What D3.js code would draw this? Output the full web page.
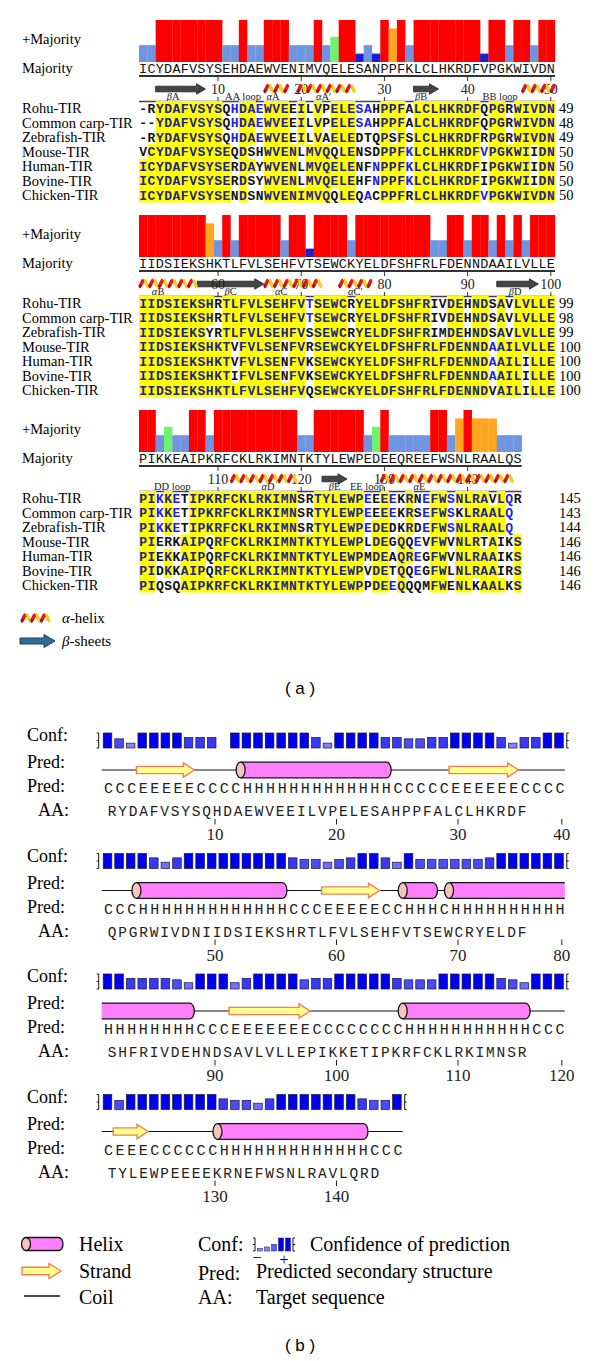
<!DOCTYPE html>
<html><head><meta charset="utf-8">
<script src="https://cdn.jsdelivr.net/npm/d3@7/dist/d3.min.js"></script>
<style>html,body{margin:0;padding:0;background:#fff;}svg{display:block;}</style>
</head><body>
<svg id="chart" width="600" height="1361" xmlns="http://www.w3.org/2000/svg"></svg>
<script>
// ================= DATA =================
const seqNames = ["Rohu-TIR","Common carp-TIR","Zebrafish-TIR","Mouse-TIR","Human-TIR","Bovine-TIR","Chicken-TIR"];
const blockStarts = [1, 51, 101];
const majority1 = "ICYDAFVSYSEHDAEWVENIMVQELESANPPFKLCLHKRDFVPGKWIVDN";
const majority2 = "IIDSIEKSHKTLFVLSEHFVTSEWCKYELDFSHFRLFDENNDAAILVLLE";
const majority3 = "PIKKEAIPKRFCKLRKIMNTKTYLEWPEDEEQREEFWSNLRAALQS";
const seqBlock1 = [
 "-RYDAFVSYSQHDAEWVEEILVPELESAHPPFALCLHKRDFQPGRWIVDN",
 "--YDAFVSYSQHDAEWVEEILVPELESAHPPFALCLHKRDFQPGRWIVDN",
 "-RYDAFVSYSQHDAEWVEEILVAELEDTQPSFSLCLHKRDFRPGRWIVDN",
 "VCYDAFVSYSEQDSHWVENLMVQQLENSDPPFKLCLHKRDFVPGKWIIDN",
 "ICYDAFVSYSERDAYWVENLMVQELENFNPPFKLCLHKRDFIPGKWIIDN",
 "ICYDAFVSYSERDSYWVENLMVQELEHFNPPFKLCLHKRDFIPGKWIIDN",
 "ICYDAFVSYSENDSNWVENIMVQQLEQACPPFRLCLHKRDFVPGKWIVDN"];
const seqBlock2 = [
 "IIDSIEKSHRTLFVLSEHFVTSEWCRYELDFSHFRIVDEHNDSAVLVLLE",
 "IIDSIEKSHRTLFVLSEHFVTSEWCRYELDFSHFRIVDEHNDSAVLVLLE",
 "IIDSIEKSYRTLFVLSEHFVSSEWCRYELDFSHFRIMDEHNDSAVLVLLE",
 "IIDSIEKSHKTVFVLSENFVRSEWCKYELDFSHFRLFDENNDAAILVLLE",
 "IIDSIEKSHKTVFVLSENFVKSEWCKYELDFSHFRLFDENNDAAILILLE",
 "IIDSIEKSHKTIFVLSENFVKSEWCKYELDFSHFRLFDENNDAAILILLE",
 "IIDSIEKSHKTLFVLSEHFVQSEWCKYELDFSHFRLFDENNDVAILILLE"];
const seqBlock3 = [
 "PIKKETIPKRFCKLRKIMNSRTYLEWPEEEEKRNEFWSNLRAVLQR",
 "PIKKETIPKRFCKLRKIMNSRTYLEWPEEEEKRSEFWSKLRAALQ",
 "PIKKETIPKRFCKLRKIMNSRTYLEWPEDEDKRDEFWSNLRAALQ",
 "PIERKAIPQRFCKLRKIMNTKTYLEWPLDEGQQEVFWVNLRTAIKS",
 "PIEKKAIPQRFCKLRKIMNTKTYLEWPMDEAQREGFWVNLRAAIKS",
 "PIDKKAIPQRFCKLRKIMNTKTYLEWPVDETQQEGFWLNLRAAIRS",
 "PIQSQAIPKRFCKLRKIMNTKTYLEWPPDEEQQQMFWENLKAALKS"];
const endNum1 = [49, 48, 49, 50, 50, 50, 50];
const endNum2 = [99, 98, 99, 100, 100, 100, 100];
const endNum3 = [145, 143, 144, 146, 146, 146, 146];
// conservation (+Majority) per column: 100 identical ... 20 low
const cons1 = [40,40,100,100,100,100,100,100,100,100,40,40,100,40,40,100,100,100,40,40,40,100,40,60,100,100,20,40,20,100,80,100,40,100,100,100,100,100,100,100,100,20,100,100,40,100,100,40,100,100];
const cons2 = [100,100,100,100,100,100,100,100,80,40,100,40,100,100,100,100,100,40,100,100,20,100,100,100,100,40,100,100,100,100,100,100,100,100,100,40,40,100,100,40,100,100,40,100,40,100,40,100,100,100];
const cons3 = [100,100,40,60,40,40,100,100,40,100,100,100,100,100,100,100,100,100,100,40,40,100,100,100,100,100,100,40,60,100,40,40,40,40,40,100,100,40,80,100,80,80,80,40,40,40];
// secondary structure annotations of panel (a), in residue positions
const ssHelixA  = [[16,18],[20,26],[47,50],[51,57],[66,72],[75,78],[112,119],[130,145]];
const ssStrandA = [[3,8],[34,36],[58,65],[94,98],[123,125]];
const ssLabelsA = [["βA",4.6],["AA loop",13.0],["αA",16.6],["αA′",22.7],["βB",34.4],["BB loop",43.9],
  ["αB",52.8],["βC",61.5],["αC",67.6],["αC′",76.5],["βD",95.7],
  ["DD loop",104.5],["αD",116],["βE",124],["EE loop",127.9],["αE",134.2]];
const rulerTicksA = [10,20,30,40,50,60,70,80,90,100,110,120,130,140];

// Panel (b): PSIPRED
const bStarts = [1, 41, 81, 121];
const predB1 = "CCCEEEEECCCCHHHHHHHHHHHHHCCCCCEEEEEECCCC";
const predB2 = "CCCHHHHHHHHHHHHHCCCEEEEECCHHHCHHHHHHHHHH";
const predB3 = "HHHHHHHHCCCEEEEEEECCCCCCCCHHHHHHHHHHHCCC";
const predB4 = "CEEECCCCCCHHHHHHHHHHHHHCCC";
const aaB1 = "RYDAFVSYSQHDAEWVEEILVPELESAHPPFALCLHKRDF";
const aaB2 = "QPGRWIVDNIIDSIEKSHRTLFVLSEHFVTSEWCRYELDF";
const aaB3 = "SHFRIVDEHNDSAVLVLLEPIKKETIPKRFCKLRKIMNSR";
const aaB4 = "TYLEWPEEEEKRNEFWSNLRAVLQRD";
const confB1 = [9,5,2,9,9,9,9,6,6,6,0,9,9,9,9,9,9,9,6,2,9,9,9,9,6,6,5,5,6,6,9,9,9,9,6,2,6,6,9,9];
const confB2 = [9,9,9,9,6,3,6,9,9,9,9,9,9,9,9,9,6,5,5,3,5,6,9,9,6,3,9,5,5,5,5,5,5,6,9,9,9,9,9,9];
const confB3 = [9,9,6,6,6,6,5,3,9,9,9,3,6,9,9,9,9,5,6,6,9,9,9,9,9,6,5,5,5,9,9,9,9,9,6,5,3,9,9,9];
const confB4 = [9,5,9,9,9,9,9,9,9,9,6,5,5,3,6,9,9,9,9,9,9,9,6,5,5,9];
const legendConf = [1,2,4,9,9];

// ================= DRAW =================
const svg = d3.select("#chart");
const serif = "'Liberation Serif','Times New Roman',serif";
const mono = "'Liberation Mono','DejaVu Sans Mono','Courier New',monospace";
const sans = "'Liberation Sans',Arial,sans-serif";

svg.append("rect").attr("width",600).attr("height",1361).attr("fill","#fff");

// ---------- Panel (a) ----------
const blockDy = 195;
const colX = d3.scaleLinear().domain([0, 50]).range([139, 555]);
const colW = colX(1) - colX(0);
const consY = d3.scaleLinear().domain([0, 100]).range([62, 20]);
const rowY = d3.scaleLinear().domain([0, 6]).range([108.3, 195]);
const consColor = d3.scaleThreshold().domain([30, 50, 70, 90])
  .range(["#1c1cd0", "#6f94e0", "#6cf26c", "#ffa51e", "#ff0000"]);

const blocksA = [
  {start: blockStarts[0], maj: majority1, seqs: seqBlock1, ends: endNum1, cons: cons1},
  {start: blockStarts[1], maj: majority2, seqs: seqBlock2, ends: endNum2, cons: cons2},
  {start: blockStarts[2], maj: majority3, seqs: seqBlock3, ends: endNum3, cons: cons3}
];

function helixA(g, x0, x1, yc) {
  const amp = 3.4, P = 9.6;
  const n = Math.max(2, Math.round((x1 - x0) / (P / 2)));
  const half = (x1 - x0) / n;
  const segs = d3.range(n).map(k => ({k, pts: d3.range(0, 1.0001, 0.125).map(t =>
      [x0 + (k + t) * half, yc + amp * Math.cos(Math.PI * (k + t))])}));
  const line = d3.line();
  g.selectAll(null).data(segs.filter(s => s.k % 2 === 1)).join("path")
    .attr("d", s => line(s.pts)).attr("fill", "none").attr("stroke", "#f2cf22").attr("stroke-width", 3.6);
  g.selectAll(null).data(segs.filter(s => s.k % 2 === 0)).join("path")
    .attr("d", s => line(s.pts)).attr("fill", "none").attr("stroke", "#de1a1a").attr("stroke-width", 3.6);
  g.selectAll(null).data(segs.filter(s => s.k % 2 === 0)).join("path")
    .attr("d", s => line(s.pts.slice(0, 4))).attr("fill", "none").attr("stroke", "#9c0d0d").attr("stroke-width", 2.2);
}
function arrowPath(x0, x1, yc, bh, hh, hl) {
  const xb = Math.max(x0 + 1, x1 - hl);
  return `M${x0},${yc - bh}L${xb},${yc - bh}L${xb},${yc - hh}L${x1},${yc}L${xb},${yc + hh}L${xb},${yc + bh}L${x0},${yc + bh}Z`;
}

blocksA.forEach((B, bi) => {
  const g = svg.append("g").attr("transform", `translate(0,${bi * blockDy})`);
  const n = B.maj.length;
  const inBlock = p => p >= B.start && p < B.start + n;
  const px = p => colX(p - B.start);
  const pc = p => colX(p - B.start) + colW / 2;

  g.append("text").attr("x", 22).attr("y", 44).attr("font-family", serif).attr("font-size", 14.5).text("+Majority");
  g.append("text").attr("x", 22).attr("y", 73).attr("font-family", serif).attr("font-size", 14.5).text("Majority");

  g.selectAll(null).data(B.cons).join("rect")
    .attr("x", (v, i) => colX(i)).attr("width", colW + 0.2)
    .attr("y", v => consY(v)).attr("height", v => consY(0) - consY(v))
    .attr("fill", v => consColor(v));

  g.selectAll(null).data(B.maj.split("")).join("text")
    .attr("x", (c, i) => colX(i) + colW / 2).attr("y", 72.5)
    .attr("text-anchor", "middle").attr("font-family", mono).attr("font-size", 13.5).attr("fill", "#111").text(c => c);

  g.append("line").attr("x1", colX(0)).attr("x2", colX(n)).attr("y1", 76).attr("y2", 76).attr("stroke", "#333").attr("stroke-width", 2);
  g.append("line").attr("x1", colX(0)).attr("x2", colX(n)).attr("y1", 101.5).attr("y2", 101.5).attr("stroke", "#444").attr("stroke-width", 1.5);
  const ticks = rulerTicksA.filter(inBlock);
  g.selectAll(null).data(ticks).join("line").attr("x1", pc).attr("x2", pc).attr("y1", 76).attr("y2", 81).attr("stroke", "#333").attr("stroke-width", 1);
  g.selectAll(null).data(ticks).join("line").attr("x1", pc).attr("x2", pc).attr("y1", 97).attr("y2", 101.5).attr("stroke", "#333").attr("stroke-width", 1);

  const strands = ssStrandA.filter(s => inBlock(s[0]));
  g.selectAll(null).data(strands).join("path")
    .attr("d", s => arrowPath(px(s[0]), px(s[1]) + colW, 89, 2.8, 5.2, 9))
    .attr("fill", "#454545").attr("stroke", "#1e1e1e").attr("stroke-width", 0.8);
  g.selectAll(null).data(ticks).join("text").attr("x", pc).attr("y", 94)
    .attr("text-anchor", "middle").attr("font-family", serif).attr("font-size", 14).attr("fill", "#222").text(d => d);
  ssHelixA.filter(s => inBlock(s[0])).forEach(s => helixA(g, px(s[0]), px(s[1]) + colW, 88.5));
  ssLabelsA.filter(l => inBlock(Math.floor(l[1]))).forEach(l => {
    const t = g.append("text").attr("x", pc(l[1])).attr("y", 100).attr("text-anchor", "middle")
      .attr("font-family", serif).attr("font-size", 10.5).attr("fill", "#222");
    const s = l[0];
    if (s[0] === "α" || s[0] === "β") {
      t.append("tspan").attr("font-style", "italic").text(s[0]);
      t.append("tspan").text(s.slice(1));
    } else t.text(s);
  });

  // sequences: highlight when residue equals majority and majority holds >50% of non-gap residues
  const frac = d3.range(n).map(i => {
    const res = B.seqs.map(s => s[i]).filter(c => c && c !== "-");
    return res.filter(c => c === B.maj[i]).length / res.length;
  });
  B.seqs.forEach((s, r) => {
    const cells = s.split("").map((c, i) => ({c, i, m: c === B.maj[i], strong: c === B.maj[i] && frac[i] > 0.5}));
    g.selectAll(null).data(cells.filter(d => d.strong)).join("rect")
      .attr("x", d => colX(d.i)).attr("width", colW + 0.3)
      .attr("y", rowY(r) - 7.3).attr("height", 14.8).attr("fill", "#ffff00");
    g.selectAll(null).data(cells).join("text")
      .attr("x", d => colX(d.i) + colW / 2).attr("y", rowY(r) + 4.6)
      .attr("text-anchor", "middle").attr("font-family", mono).attr("font-weight", "bold").attr("font-size", 13)
      .attr("fill", d => d.strong ? "#23238a" : (d.m ? "#2020e8" : "#111")).text(d => d.c);
    g.append("text").attr("x", 22).attr("y", rowY(r) + 5).attr("font-family", serif).attr("font-size", 14.5).text(seqNames[r]);
    g.append("text").attr("x", 559).attr("y", rowY(r) + 5).attr("font-family", serif).attr("font-size", 14.5).text(B.ends[r]);
  });
});

// legend (a)
{
  const g = svg.append("g");
  helixA(g, 21, 50, 618);
  g.append("path").attr("d", arrowPath(20, 55, 641, 3, 6.5, 11)).attr("fill", "#2f6c9c").attr("stroke", "#1c3d5c").attr("stroke-width", 1);
  const t1 = g.append("text").attr("x", 62).attr("y", 623).attr("font-family", serif).attr("font-size", 15);
  t1.append("tspan").attr("font-style", "italic").text("α"); t1.append("tspan").text("-helix");
  const t2 = g.append("text").attr("x", 62).attr("y", 646).attr("font-family", serif).attr("font-size", 15);
  t2.append("tspan").attr("font-style", "italic").text("β"); t2.append("tspan").text("-sheets");
  g.append("text").attr("x", 300).attr("y", 694).attr("text-anchor", "middle").attr("font-family", sans).attr("font-size", 17).text("( a )");
}

// ---------- Panel (b) ----------
const bDy = 120.5;
const resX = d3.scaleLinear().domain([0, 39]).range([107.5, 559]);
const aaX = d3.scaleLinear().domain([0, 39]).range([112, 522]);
const half = (resX(1) - resX(0)) / 2;
const tickX = d3.scaleLinear().domain([10, 30]).range([215, 458]);
const confH = d3.scaleLinear().domain([0, 1, 9]).range([0, 3.4, 15]);
const confColor = d3.scaleLinear().domain([0, 9]).range(["#a8a8ff", "#0000f0"]).interpolate(d3.interpolateRgb);
const preds = [predB1, predB2, predB3, predB4];
const aas = [aaB1, aaB2, aaB3, aaB4];
const confs = [confB1, confB2, confB3, confB4];

function segments(str) {
  const out = []; let i = 0;
  while (i < str.length) { let j = i; while (j + 1 < str.length && str[j + 1] === str[i]) j++; out.push({t: str[i], s: i, e: j}); i = j + 1; }
  return out;
}
function drawHelixB(g, x0, x1, yc, h, openLeft, openRight) {
  const r = 4.5;
  const fillD = openRight ? `M${x0},${yc - h}L${x1},${yc - h}L${x1},${yc + h}L${x0},${yc + h}Z`
    : `M${x0},${yc - h}L${x1 - r},${yc - h}A${r},${h} 0 0 1 ${x1 - r},${yc + h}L${x0},${yc + h}Z`;
  g.append("path").attr("d", fillD).attr("fill", "#ff80ff");
  let strokeD = `M${x0},${yc - h}L${openRight ? x1 : x1 - r},${yc - h}`;
  strokeD += openRight ? `M${x1},${yc + h}L${x0},${yc + h}` : `A${r},${h} 0 0 1 ${x1 - r},${yc + h}L${x0},${yc + h}`;
  g.append("path").attr("d", strokeD).attr("fill", "none").attr("stroke", "#111").attr("stroke-width", 1.3);
  if (!openLeft) g.append("ellipse").attr("cx", x0).attr("cy", yc).attr("rx", r).attr("ry", h)
    .attr("fill", "#f6c4bf").attr("stroke", "#111").attr("stroke-width", 1.3);
}

preds.forEach((pred, k) => {
  const g = svg.append("g").attr("transform", `translate(0,${k * bDy})`);
  const n = pred.length;
  const start = bStarts[k];
  g.append("text").attr("x", 27).attr("y", 741).attr("font-family", serif).attr("font-size", 18).text("Conf:");
  g.append("text").attr("x", 27).attr("y", 768).attr("font-family", serif).attr("font-size", 18).text("Pred:");
  g.append("text").attr("x", 27).attr("y", 792).attr("font-family", serif).attr("font-size", 18).text("Pred:");
  g.append("text").attr("x", 38).attr("y", 816).attr("font-family", serif).attr("font-size", 18).text("AA:");

  const yb = 748;
  g.selectAll(null).data(confs[k].map((c, i) => ({c, i})).filter(d => d.c > 0)).join("rect")
    .attr("x", d => resX(d.i) - 4.3).attr("width", 8.6)
    .attr("y", d => yb - confH(d.c)).attr("height", d => confH(d.c))
    .attr("fill", d => confColor(d.c)).attr("stroke", "#1a1a40").attr("stroke-width", 0.7);
  const lx = resX(0) - half - 3, rx = resX(n - 1) + half + 2;
  g.append("path").attr("d", `M${lx - 2},${yb - 15}L${lx},${yb - 15}L${lx},${yb}L${lx - 2},${yb}M${lx},${yb - 7.5}L${lx - 2},${yb - 7.5}`)
    .attr("fill", "none").attr("stroke", "#111").attr("stroke-width", 1);
  g.append("path").attr("d", `M${rx + 2},${yb - 15}L${rx},${yb - 15}L${rx},${yb}L${rx + 2},${yb}M${rx},${yb - 7.5}L${rx + 2},${yb - 7.5}`)
    .attr("fill", "none").attr("stroke", "#111").attr("stroke-width", 1);

  const yc = 770;
  g.append("line").attr("x1", resX(0) - half).attr("x2", resX(n - 1) + half).attr("y1", yc).attr("y2", yc)
    .attr("stroke", "#111").attr("stroke-width", 1.2);
  segments(pred).forEach(sg => {
    const x0 = resX(sg.s) - half, x1 = resX(sg.e) + half;
    if (sg.t === "H") {
      const openLeft = sg.s === 0 && k > 0 && preds[k - 1][preds[k - 1].length - 1] === "H";
      const openRight = sg.e === n - 1 && k < preds.length - 1 && preds[k + 1][0] === "H";
      drawHelixB(g, x0, x1, yc, 7.8, openLeft, openRight);
    } else if (sg.t === "E") {
      g.append("path").attr("d", arrowPath(x0, x1, yc, 3.6, 7.2, 11)).attr("fill", "#ffff8c")
        .attr("stroke", "#f07f5a").attr("stroke-width", 1.4);
    }
  });

  g.selectAll(null).data(pred.split("")).join("text")
    .attr("x", (c, i) => resX(i) + 1).attr("y", 793).attr("text-anchor", "middle")
    .attr("font-family", mono).attr("font-size", 15).attr("fill", "#222").text(c => c);
  g.selectAll(null).data(aas[k].split("")).join("text")
    .attr("x", (c, i) => aaX(i)).attr("y", 816).attr("text-anchor", "middle")
    .attr("font-family", mono).attr("font-size", 14.5).attr("fill", "#222").text(c => c);
  const tk = d3.range(10, n + 1, 10);
  g.selectAll(null).data(tk).join("line")
    .attr("x1", v => Math.min(tickX(v), rx - 5)).attr("x2", v => Math.min(tickX(v), rx - 5))
    .attr("y1", 819).attr("y2", 824.5).attr("stroke", "#222").attr("stroke-width", 1);
  g.selectAll(null).data(tk).join("text")
    .attr("x", v => Math.min(tickX(v), rx - 5)).attr("y", 840).attr("text-anchor", "middle")
    .attr("font-family", serif).attr("font-size", 17).attr("fill", "#222").text(v => v + start - 1);
});

// legend (b)
{
  const g = svg.append("g");
  drawHelixB(g, 26, 63, 1244, 6.5, false, false);
  g.append("path").attr("d", arrowPath(22, 61, 1271, 3.8, 7.5, 12)).attr("fill", "#ffff8c").attr("stroke", "#f07f5a").attr("stroke-width", 1.4);
  g.append("line").attr("x1", 24).attr("x2", 60).attr("y1", 1296).attr("y2", 1296).attr("stroke", "#111").attr("stroke-width", 1.3);
  const lt = [["Helix", 1251], ["Strand", 1278], ["Coil", 1304]];
  g.selectAll(null).data(lt).join("text").attr("x", 79).attr("y", d => d[1])
    .attr("font-family", serif).attr("font-size", 20).text(d => d[0]);
  const rt = [["Conf:", 198, 1251], ["Confidence of prediction", 310, 1251], ["Pred:", 198, 1280],
              ["Predicted secondary structure", 256, 1278], ["AA:", 198, 1304], ["Target sequence", 256, 1304]];
  g.selectAll(null).data(rt).join("text").attr("x", d => d[1]).attr("y", d => d[2])
    .attr("font-family", serif).attr("font-size", 20).text(d => d[0]);
  const lxs = d3.scaleLinear().domain([0, 4]).range([260, 288]);
  const lh = d3.scaleLinear().domain([0, 9]).range([1.5, 13]);
  g.selectAll(null).data(legendConf).join("rect")
    .attr("x", (c, i) => lxs(i) - 2.5).attr("width", 5).attr("y", c => 1251 - lh(c)).attr("height", c => lh(c))
    .attr("fill", c => confColor(c)).attr("stroke", "#1a1a40").attr("stroke-width", 0.5);
  g.append("path").attr("d", "M253,1238L255,1238L255,1251L253,1251M255,1244.5L253,1244.5").attr("fill", "none").attr("stroke", "#111");
  g.append("path").attr("d", "M295,1238L293,1238L293,1251L295,1251M293,1244.5L295,1244.5").attr("fill", "none").attr("stroke", "#111");
  g.append("text").attr("x", 257).attr("y", 1263).attr("text-anchor", "middle").attr("font-family", serif).attr("font-size", 16).text("−");
  g.append("text").attr("x", 284).attr("y", 1265).attr("text-anchor", "middle").attr("font-family", serif).attr("font-size", 16).text("+");
  g.append("text").attr("x", 300).attr("y", 1351).attr("text-anchor", "middle").attr("font-family", sans).attr("font-size", 17).text("( b )");
}
</script>
</body></html>
